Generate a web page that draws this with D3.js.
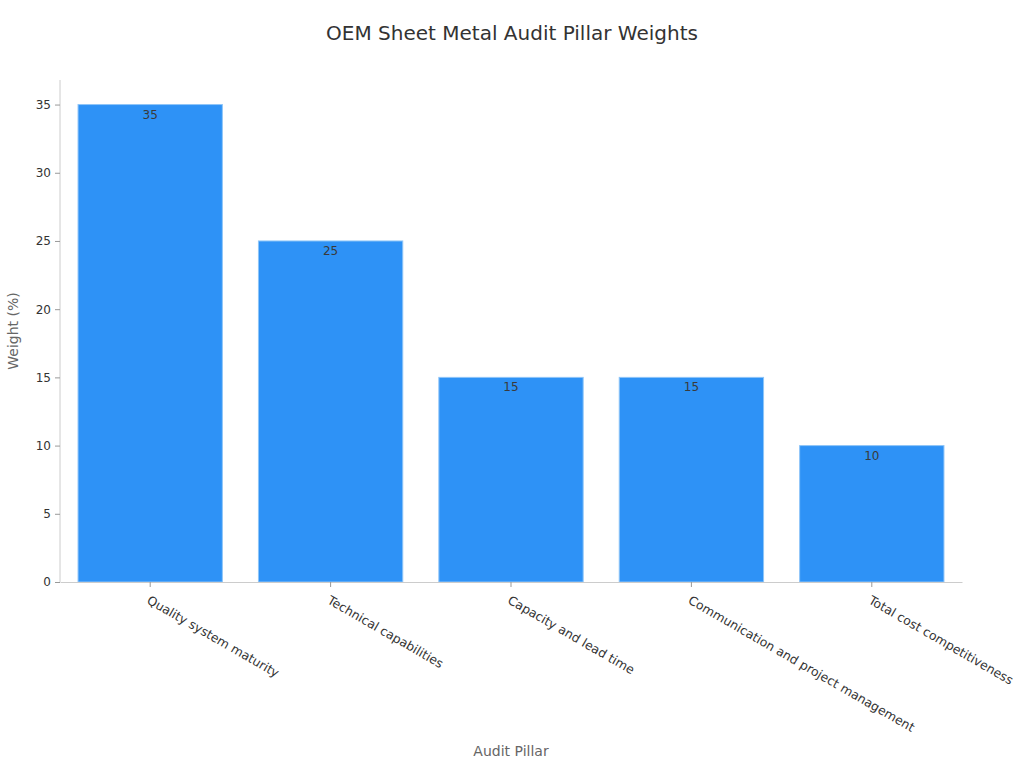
<!DOCTYPE html>
<html>
<head>
<meta charset="utf-8">
<script src="https://cdn.jsdelivr.net/npm/d3@7"></script>
<style>
  body { margin: 0; background: #fff; font-family: "DejaVu Sans", sans-serif; }
</style>
</head>
<body>
<div id="chart"></div>
<script>
// --- Data ---
const pillars = [
    "Quality system maturity",
    "Technical capabilities",
    "Capacity and lead time",
    "Communication and project management",
    "Total cost competitiveness"
];
const weights = [35, 25, 15, 15, 10];
const yTicks = [0, 5, 10, 15, 20, 25, 30, 35];

const width = 1024, height = 768;
const margin = { top: 80, right: 62, bottom: 186, left: 60 };
const innerW = width - margin.left - margin.right;
const innerH = height - margin.top - margin.bottom;

const svg = d3.select("#chart").append("svg")
    .attr("width", width)
    .attr("height", height);

// title
svg.append("text")
    .attr("x", width / 2)
    .attr("y", 40)
    .attr("text-anchor", "middle")
    .style("font-size", "20px")
    .style("fill", "#333")
    .text("OEM Sheet Metal Audit Pillar Weights");

const g = svg.append("g")
    .attr("transform", `translate(${margin.left},${margin.top})`);

const x = d3.scaleBand()
    .domain(pillars)
    .range([0, innerW])
    .paddingInner(0.2)
    .paddingOuter(0.1);

const y = d3.scaleLinear()
    .domain([0, 36.8])
    .range([innerH, 0]);

// bars
g.selectAll(".bar")
    .data(pillars)
    .enter()
    .append("rect")
    .attr("class", "bar")
    .attr("x", d => x(d))
    .attr("y", (d, i) => y(weights[i]))
    .attr("width", x.bandwidth())
    .attr("height", (d, i) => innerH - y(weights[i]))
    .attr("fill", "#2e92f6")
    .attr("stroke", "#8ec5f8")
    .attr("stroke-width", 1);

// value labels
g.selectAll(".val")
    .data(pillars)
    .enter()
    .append("text")
    .attr("x", d => x(d) + x.bandwidth() / 2)
    .attr("y", (d, i) => y(weights[i]) + 14)
    .attr("text-anchor", "middle")
    .style("font-size", "12px")
    .style("fill", "#3a3a3a")
    .text((d, i) => weights[i]);

// y axis
const yAxis = g.append("g")
    .call(d3.axisLeft(y).tickValues(yTicks).tickSize(5).tickPadding(4));
yAxis.select(".domain").attr("stroke", "#ccc").attr("d", `M0,${innerH}V0`);
yAxis.selectAll(".tick line").attr("stroke", "#999");
yAxis.selectAll("text").style("font-size", "12px").style("fill", "#333")
    .style("font-family", "DejaVu Sans");

// x axis
const xAxis = g.append("g")
    .attr("transform", `translate(0,${innerH})`)
    .call(d3.axisBottom(x).tickSize(5).tickSizeOuter(0));
xAxis.select(".domain").attr("stroke", "#ccc");
xAxis.selectAll(".tick line").attr("stroke", "#999");
xAxis.selectAll("text")
    .style("font-size", "12.4px")
    .style("fill", "#333")
    .style("font-family", "DejaVu Sans")
    .attr("text-anchor", "start")
    .attr("x", 0)
    .attr("y", 0)
    .attr("dy", "0.35em")
    .attr("transform", "translate(-2,17) rotate(30)");

// axis titles
svg.append("text")
    .attr("x", margin.left + innerW / 2)
    .attr("y", 756)
    .attr("text-anchor", "middle")
    .style("font-size", "14px")
    .style("fill", "#666")
    .text("Audit Pillar");

svg.append("text")
    .attr("transform", `translate(18,${margin.top + innerH / 2}) rotate(-90)`)
    .attr("text-anchor", "middle")
    .style("font-size", "14px")
    .style("fill", "#666")
    .text("Weight (%)");
</script>
</body>
</html>
